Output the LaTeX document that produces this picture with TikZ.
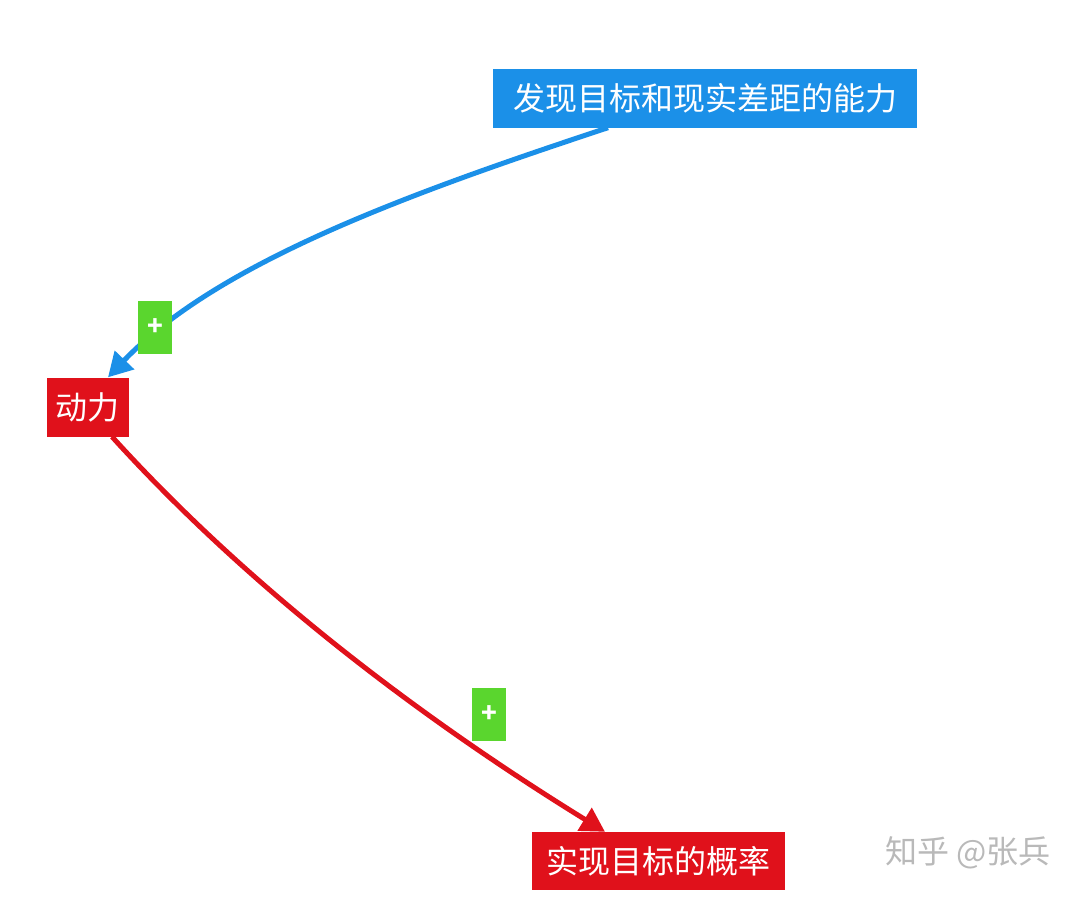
\documentclass[tikz,border=0pt]{standalone}
\usepackage{fontspec}
\setmainfont{Noto Sans CJK SC}
\usetikzlibrary{arrows.meta}
\definecolor{bblue}{HTML}{1B90E8}
\definecolor{rred}{HTML}{E0111B}
\definecolor{ggreen}{HTML}{5AD62E}
\tikzset{
 box/.style={fill=#1,text=white,font=\fontsize{32}{36}\selectfont,inner sep=0pt,anchor=center},
 plus/.style={fill=ggreen,text=white,font=\fontsize{26}{28}\selectfont\bfseries,minimum width=34pt,minimum height=53pt,inner sep=0pt},
 link/.style={line width=5pt,draw=#1,-{Triangle[length=24pt,width=26pt]}}
}
\begin{document}
\begin{tikzpicture}[x=1pt,y=-1pt]
\useasboundingbox (0,0) rectangle (1080,900);
\node[box=bblue,minimum width=424pt,minimum height=59pt] (goal) at (705,98) {发现目标和现实差距的能力};
\node[box=rred,minimum width=82pt,minimum height=59pt] (drive) at (88,407) {动力};
\node[box=rred,minimum width=253pt,minimum height=58pt] (prob) at (658,861) {实现目标的概率};
\node[text=gray!55,font=\fontsize{32}{34}\selectfont] (wm) at (968,853) {知乎 @张兵};
\draw[link=bblue] (goal.south -| 608,0) .. controls (420,190) and (220,260) .. (drive.north -| 108,0);
\draw[link=rred] (drive.south -| 112,0) .. controls (260,600) and (440,730) .. (prob.north -| 605,0);
\node[plus] (p1) at (155,327) {+};
\node[plus] (p2) at (489,714) {+};
\end{tikzpicture}
\end{document}
